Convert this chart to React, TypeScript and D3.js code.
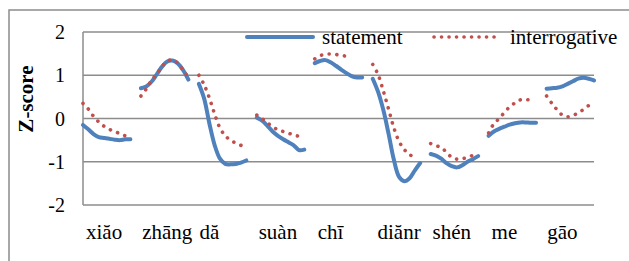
import React, { useEffect, useRef } from 'react';
import * as d3 from 'd3';

// one array of 10 samples per syllable, null = no sample
const syllables = ['xiăo', 'zhāng', 'dă', 'suàn', 'chī', 'diănr', 'shén', 'me', 'gāo'];
const labelIndex = [4, 16, 24, 37, 47, 60, 70, 80, 91];

const statement: (number | null)[][] = [
    [-0.15, -0.25, -0.36, -0.43, -0.45, -0.47, -0.49, -0.5, -0.48, -0.48],
    [0.7, 0.74, 0.85, 1.02, 1.2, 1.32, 1.34, 1.27, 1.12, 0.9],
    [0.8, 0.46, -0.12, -0.62, -0.93, -1.05, -1.06, -1.05, -1.02, -0.97],
    [0.02, -0.05, -0.17, -0.3, -0.4, -0.48, -0.55, -0.62, -0.73, -0.72],
    [1.28, 1.33, 1.35, 1.3, 1.22, 1.13, 1.05, 0.98, 0.95, 0.95],
    [0.92, 0.62, 0.2, -0.35, -0.95, -1.35, -1.45, -1.38, -1.2, -1.03],
    [-0.82, -0.86, -0.93, -1.03, -1.1, -1.13, -1.08, -1.0, -0.94, -0.87],
    [-0.4, -0.3, -0.24, -0.19, -0.14, -0.11, -0.09, -0.09, -0.1, -0.1],
    [0.69, 0.7, 0.71, 0.74, 0.8, 0.86, 0.92, 0.94, 0.92, 0.88],
];

const interrogative: (number | null)[][] = [
    [0.35, 0.22, 0.05, -0.08, -0.18, -0.25, -0.3, -0.35, -0.4, -0.45],
    [0.52, 0.68, 0.88, 1.03, 1.2, 1.33, 1.35, 1.28, 1.12, 0.95],
    [1.0, 0.78, 0.47, 0.1, -0.22, -0.4, -0.5, -0.57, -0.62, -0.66],
    [0.08, 0.0, -0.1, -0.19, -0.26, -0.3, -0.34, -0.38, -0.41, -0.42],
    [1.38, 1.45, 1.49, 1.49, 1.48, 1.46, 1.44, 1.42, null, null],
    [1.25, 1.02, 0.64, 0.22, -0.21, -0.53, -0.72, -0.83, -0.92, null],
    [-0.58, -0.63, -0.67, -0.78, -0.9, -0.94, -0.93, -0.9, -0.85, null],
    [-0.33, -0.12, 0.0, 0.14, 0.27, 0.36, 0.43, 0.44, 0.42, null],
    [0.52, 0.35, 0.2, 0.08, 0.04, 0.07, 0.13, 0.21, 0.3, 0.36],
];

const yTicks = [2, 1, 0, -1, -2];

const flatten = (rows: (number | null)[][]) => {
    const out: (number | null)[] = [];
    rows.forEach((r, i) => {
        if (i > 0) out.push(null);
        out.push(...r);
    });
    return out;
};

const W = 629;
const H = 261;
const blue = '#4f81bd';
const red = '#c0504d';
const grid = '#8c8c8c';
const font = '"Liberation Serif", "Times New Roman", serif';
const fs = 21;

const App = () => {
    const svgRef = useRef<SVGSVGElement>(null);

    useEffect(() => {
        const svg = d3.select(svgRef.current);
        svg.selectAll('*').remove();

        const margin = { top: 32, right: 35, bottom: 56, left: 83 };
        const sData = flatten(statement);
        const qData = flatten(interrogative);

        const x = d3.scaleLinear()
            .domain([0, sData.length - 1])
            .range([margin.left, W - margin.right]);
        const y = d3.scaleLinear()
            .domain([-2, 2])
            .range([H - margin.bottom, margin.top]);

        // outer frame (top + left only are in view)
        svg.append('path')
            .attr('d', `M9,${H} V10 H${W}`)
            .attr('fill', 'none')
            .attr('stroke', grid)
            .attr('stroke-width', 1.5);

        // gridlines
        svg.append('g').selectAll('line')
            .data(yTicks)
            .enter()
            .append('line')
            .attr('x1', margin.left)
            .attr('x2', W - margin.right)
            .attr('y1', d => y(d))
            .attr('y2', d => y(d))
            .attr('stroke', grid)
            .attr('stroke-width', 1.5);

        svg.append('line')
            .attr('x1', margin.left)
            .attr('x2', margin.left)
            .attr('y1', y(2))
            .attr('y2', y(-2))
            .attr('stroke', grid)
            .attr('stroke-width', 1.5);

        // y tick labels
        svg.append('g').selectAll('text')
            .data(yTicks)
            .enter()
            .append('text')
            .attr('x', 65)
            .attr('y', d => y(d))
            .attr('dy', '0.35em')
            .attr('text-anchor', 'end')
            .attr('font-family', font)
            .attr('font-size', 20)
            .text(d => d);

        svg.append('text')
            .attr('transform', 'translate(33,99) rotate(-90)')
            .attr('text-anchor', 'middle')
            .attr('font-family', font)
            .attr('font-size', fs)
            .attr('font-weight', 'bold')
            .text('Z-score');

        // x labels
        svg.append('g').selectAll('text')
            .data(syllables)
            .enter()
            .append('text')
            .attr('x', (d, i) => x(labelIndex[i]))
            .attr('y', 239)
            .attr('text-anchor', 'middle')
            .attr('font-family', font)
            .attr('font-size', fs)
            .text(d => d);

        const line = d3.line<number | null>()
            .defined(d => d !== null)
            .x((d, i) => x(i))
            .y(d => y(d as number))
            .curve(d3.curveCatmullRom.alpha(0.5));

        svg.append('path')
            .attr('d', line(sData))
            .attr('fill', 'none')
            .attr('stroke', blue)
            .attr('stroke-width', 4)
            .attr('stroke-linecap', 'round')
            .attr('stroke-linejoin', 'round');

        svg.append('path')
            .attr('d', line(qData))
            .attr('fill', 'none')
            .attr('stroke', red)
            .attr('stroke-width', 3.6)
            .attr('stroke-linecap', 'round')
            .attr('stroke-dasharray', '0.1 7.6');

        // legend
        const ly = 37;
        svg.append('line')
            .attr('x1', 247).attr('x2', 313)
            .attr('y1', ly).attr('y2', ly)
            .attr('stroke', blue)
            .attr('stroke-width', 4)
            .attr('stroke-linecap', 'round');
        svg.append('text')
            .attr('x', 322).attr('y', 44)
            .attr('font-family', font)
            .attr('font-size', fs)
            .text('statement');
        svg.append('line')
            .attr('x1', 434).attr('x2', 501)
            .attr('y1', ly).attr('y2', ly)
            .attr('stroke', red)
            .attr('stroke-width', 3.6)
            .attr('stroke-linecap', 'round')
            .attr('stroke-dasharray', '0.1 7.4');
        svg.append('text')
            .attr('x', 510).attr('y', 44)
            .attr('font-family', font)
            .attr('font-size', fs)
            .text('interrogative');
    }, []);

    return (
        <svg
            ref={svgRef}
            width={W}
            height={H}
            style={{ position: 'absolute', left: 0, top: 0, background: '#fff' }}
        />
    );
};

export default App;
